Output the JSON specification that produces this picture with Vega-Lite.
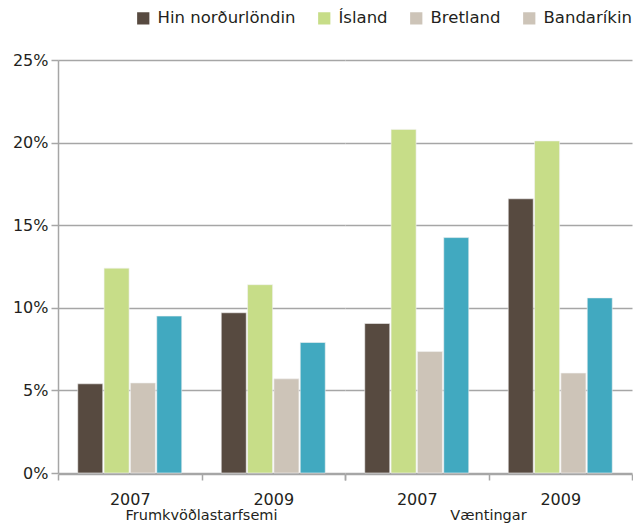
{
  "$schema": "https://vega.github.io/schema/vega-lite/v6.json",
  "padding": {"left": 12, "top": 10, "right": 0, "bottom": 0},
  "background": "white",
  "data": {
    "values": [
      {"category": "Frumkvöðlastarfsemi", "year": "2007", "country": "Hin norðurlöndin", "value": 0.054},
      {"category": "Frumkvöðlastarfsemi", "year": "2007", "country": "Ísland", "value": 0.124},
      {"category": "Frumkvöðlastarfsemi", "year": "2007", "country": "Bretland", "value": 0.0545},
      {"category": "Frumkvöðlastarfsemi", "year": "2007", "country": "Bandaríkin", "value": 0.095},
      {"category": "Frumkvöðlastarfsemi", "year": "2009", "country": "Hin norðurlöndin", "value": 0.097},
      {"category": "Frumkvöðlastarfsemi", "year": "2009", "country": "Ísland", "value": 0.114},
      {"category": "Frumkvöðlastarfsemi", "year": "2009", "country": "Bretland", "value": 0.057},
      {"category": "Frumkvöðlastarfsemi", "year": "2009", "country": "Bandaríkin", "value": 0.079},
      {"category": "Væntingar", "year": "2007", "country": "Hin norðurlöndin", "value": 0.0905},
      {"category": "Væntingar", "year": "2007", "country": "Ísland", "value": 0.208},
      {"category": "Væntingar", "year": "2007", "country": "Bretland", "value": 0.0735},
      {"category": "Væntingar", "year": "2007", "country": "Bandaríkin", "value": 0.1425},
      {"category": "Væntingar", "year": "2009", "country": "Hin norðurlöndin", "value": 0.166},
      {"category": "Væntingar", "year": "2009", "country": "Ísland", "value": 0.201},
      {"category": "Væntingar", "year": "2009", "country": "Bretland", "value": 0.0605},
      {"category": "Væntingar", "year": "2009", "country": "Bandaríkin", "value": 0.106}
    ]
  },
  "facet": {
    "column": {
      "field": "category",
      "type": "nominal",
      "sort": ["Frumkvöðlastarfsemi", "Væntingar"],
      "title": null,
      "header": {
        "labelOrient": "bottom",
        "labelFont": "DejaVu Sans",
        "labelFontSize": 14.5,
        "labelColor": "#231f20",
        "labelPadding": 2
      }
    }
  },
  "spacing": 0,
  "spec": {
    "width": 287,
    "height": 413,
    "encoding": {
      "x": {
        "field": "year",
        "type": "nominal",
        "sort": ["2007", "2009"],
        "scale": {"paddingInner": 0, "paddingOuter": 0},
        "axis": {
          "title": null,
          "labelAngle": 0,
          "tickBand": "extent",
          "tickSize": 6,
          "labelPadding": 11,
          "labelFontSize": 16,
          "domainColor": "#a6a6a6",
          "tickColor": "#a6a6a6",
          "domainWidth": 1.5,
          "tickWidth": 1.5
        }
      },
      "xOffset": {
        "field": "country",
        "type": "nominal",
        "sort": ["Hin norðurlöndin", "Ísland", "Bretland", "Bandaríkin"],
        "scale": {"paddingInner": 0.05, "paddingOuter": 0.75}
      },
      "y": {
        "field": "value",
        "type": "quantitative",
        "scale": {"domain": [0, 0.25]},
        "axis": {
          "title": null,
          "format": ".0%",
          "values": [0, 0.05, 0.1, 0.15, 0.2, 0.25],
          "tickSize": 7,
          "labelPadding": 3,
          "labelFontSize": 16,
          "domainColor": "#a6a6a6",
          "tickColor": "#a6a6a6",
          "gridColor": "#a6a6a6",
          "domainWidth": 1.5,
          "tickWidth": 1.5,
          "gridWidth": 1.5
        }
      }
    },
    "layer": [
      {
        "mark": {"type": "bar", "stroke": "#f2f2f2", "strokeWidth": 0.6},
        "encoding": {
          "fill": {
            "field": "country",
            "type": "nominal",
            "sort": ["Hin norðurlöndin", "Ísland", "Bretland", "Bandaríkin"],
            "scale": {
              "range": ["#574a40", "#c7dd88", "#cdc4b8", "#41a9c0"]
            },
            "legend": null
          }
        }
      },
      {
        "mark": {"type": "bar", "opacity": 0},
        "encoding": {
          "color": {
            "field": "country",
            "type": "nominal",
            "scale": {
              "domain": ["Hin norðurlöndin", "Ísland", "Bretland", "Bandaríkin"],
              "range": ["#574a40", "#c7dd88", "#cdc4b8", "#cdc4b8"]
            },
            "legend": {
              "title": null,
              "orient": "none",
              "direction": "horizontal",
              "legendX": 77,
              "legendY": -50,
              "symbolType": "square",
              "symbolSize": 150,
              "symbolOpacity": 1,
              "symbolStrokeWidth": 0,
              "labelFontSize": 16.5,
              "labelOffset": 6,
              "columnPadding": 20
            }
          }
        }
      }
    ]
  },
  "config": {
    "font": "DejaVu Sans",
    "view": {"stroke": null},
    "axis": {
      "labelFont": "DejaVu Sans",
      "labelColor": "#231f20",
      "grid": false
    },
    "axisY": {"grid": true},
    "legend": {"labelFont": "DejaVu Sans", "labelColor": "#231f20"}
  }
}
